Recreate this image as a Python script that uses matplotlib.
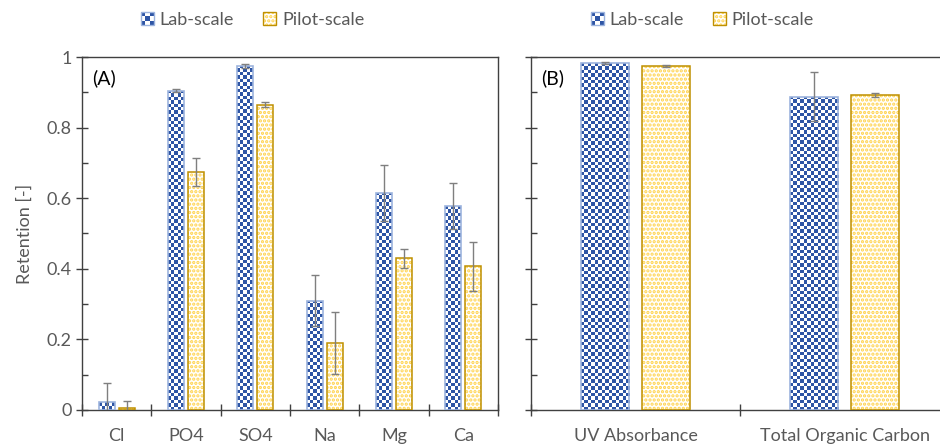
import matplotlib
matplotlib.use('Agg')
import matplotlib.pyplot as plt
from matplotlib.colors import ListedColormap
from matplotlib.patches import Rectangle
from matplotlib.legend_handler import HandlerBase
from matplotlib.ticker import FuncFormatter
import numpy as np

plt.rcParams['font.family'] = ['Lato', 'DejaVu Sans']
plt.rcParams['hatch.linewidth'] = 1.6

# panel A: ions
ions = ['Cl', 'PO4', 'SO4', 'Na', 'Mg', 'Ca']
lab_ions = [0.022, 0.905, 0.975, 0.310, 0.615, 0.577]
lab_ions_err = [0.055, 0.005, 0.005, 0.073, 0.080, 0.065]
pilot_ions = [0.005, 0.675, 0.865, 0.190, 0.430, 0.407]
pilot_ions_err = [0.020, 0.040, 0.008, 0.088, 0.027, 0.070]

# panel B: organics
organics = ['UV Absorbance', 'Total Organic Carbon']
lab_org = [0.982, 0.888]
lab_org_err = [0.003, 0.070]
pilot_org = [0.975, 0.892]
pilot_org_err = [0.002, 0.006]

BLUE = '#2E55A5'
BLUE_EDGE = '#9DB4DE'
YEL = '#FFD24A'
YEL_EDGE = '#BF9000'
TXT = '#595959'
AX = '#404040'
FS = 13


def checker_fill(ax, bars, color, cell=3.4):
    for b in bars:
        x0, y0 = b.get_x(), b.get_y()
        w, h = b.get_width(), b.get_height()
        (px0, py0), (px1, py1) = ax.transData.transform([(x0, y0), (x0 + w, y0 + h)])
        nx = max(1, int(round((px1 - px0) / cell)))
        ny = max(1, int(round((py1 - py0) / cell)))
        yy, xx = np.mgrid[0:ny, 0:nx]
        im = ax.imshow((xx + yy) % 2, cmap=ListedColormap(['white', color]),
                       extent=(x0, x0 + w, y0, y0 + h), origin='lower',
                       aspect='auto', interpolation='nearest', zorder=2)
        im.set_clip_path(b)


class CheckerHandler(HandlerBase):
    def create_artists(self, legend, orig_handle, xdescent, ydescent,
                       width, height, fontsize, trans):
        s = height
        x0 = -xdescent + (width - s) / 2
        y0 = -ydescent
        c = s / 3
        arts = [Rectangle((x0, y0), s, s, facecolor='white', edgecolor='none', transform=trans)]
        for i in range(3):
            for j in range(3):
                if (i + j) % 2 == 0:
                    arts.append(Rectangle((x0 + i * c, y0 + j * c), c, c, facecolor=BLUE,
                                          edgecolor='none', transform=trans))
        arts.append(Rectangle((x0, y0), s, s, facecolor='none', edgecolor=BLUE_EDGE,
                              lw=1, transform=trans))
        return arts


class DotHandler(HandlerBase):
    def create_artists(self, legend, orig_handle, xdescent, ydescent,
                       width, height, fontsize, trans):
        s = height
        x0 = -xdescent + (width - s) / 2
        y0 = -ydescent
        r1 = Rectangle((x0, y0), s, s, facecolor='white', edgecolor=YEL, hatch='....',
                       lw=0, transform=trans)
        r2 = Rectangle((x0, y0), s, s, facecolor='none', edgecolor=YEL_EDGE, lw=1, transform=trans)
        return [r1, r2]


def panel(ax, cats, lab, lab_err, pilot, pilot_err):
    n = len(cats)
    x = np.arange(n)
    w = 0.23
    off = 0.145
    ax.set_xlim(-0.5, n - 0.5)
    ax.set_ylim(0, 1)
    lb = ax.bar(x - off, lab, w, facecolor='none', edgecolor=BLUE_EDGE, lw=1.2, zorder=3)
    checker_fill(ax, lb, BLUE)
    ax.bar(x + off, pilot, w, facecolor='white', edgecolor=YEL, hatch='....', lw=0, zorder=2)
    ax.bar(x + off, pilot, w, facecolor='none', edgecolor=YEL_EDGE, lw=1.1, zorder=3)
    ax.errorbar(x - off, lab, yerr=lab_err, fmt='none', ecolor='#7F7F7F', elinewidth=1,
                capsize=3, capthick=1, zorder=4)
    ax.errorbar(x + off, pilot, yerr=pilot_err, fmt='none', ecolor='#7F7F7F', elinewidth=1,
                capsize=3, capthick=1, zorder=4)
    ax.set_xlim(-0.5, n - 0.5)
    ax.set_ylim(0, 1)
    ax.set_xticks(np.arange(n + 1) - 0.5)
    ax.set_xticklabels([])
    ax.set_xticks(x, minor=True)
    ax.set_xticklabels(cats, minor=True, fontsize=FS, color=TXT)
    ax.tick_params(axis='x', which='major', direction='inout', length=9, color=AX, width=1)
    ax.tick_params(axis='x', which='minor', length=0, pad=13)
    ax.set_yticks(np.arange(0, 1.01, 0.2))
    ax.set_yticks(np.arange(0.1, 1.0, 0.2), minor=True)
    ax.yaxis.set_major_formatter(FuncFormatter(lambda v, p: '%g' % round(v, 2)))
    ax.tick_params(axis='y', which='major', direction='inout', length=8, color=AX, width=1,
                   labelsize=FS, labelcolor=TXT)
    ax.tick_params(axis='y', which='minor', direction='in', length=4, color=AX, width=1)
    for s in ax.spines.values():
        s.set_color(AX)
        s.set_linewidth(1)
    ax.legend([0, 1], ['Lab-scale', 'Pilot-scale'],
              handler_map={0: CheckerHandler(), 1: DotHandler()},
              loc='center', bbox_to_anchor=(0.41, 1.105), ncol=2, frameon=False,
              fontsize=FS, labelcolor=TXT, handlelength=0.75, handleheight=0.75,
              handletextpad=0.3, columnspacing=1.6)


fig = plt.figure(figsize=(9.4, 4.44), dpi=100)
axA = fig.add_axes([0.0872, 0.0766, 0.4426, 0.795])
axB = fig.add_axes([0.5649, 0.0766, 0.4447, 0.795])

panel(axA, ions, lab_ions, lab_ions_err, pilot_ions, pilot_ions_err)
panel(axB, organics, lab_org, lab_org_err, pilot_org, pilot_org_err)
axB.set_yticklabels([])

axA.set_ylabel('Retention [-]', fontsize=FS, color=TXT, labelpad=10)
axA.text(0.025, 0.94, '(A)', transform=axA.transAxes, fontsize=14, color='black', va='center')
axB.text(0.025, 0.94, '(B)', transform=axB.transAxes, fontsize=14, color='black', va='center')

fig.savefig('out.png', dpi=100)
